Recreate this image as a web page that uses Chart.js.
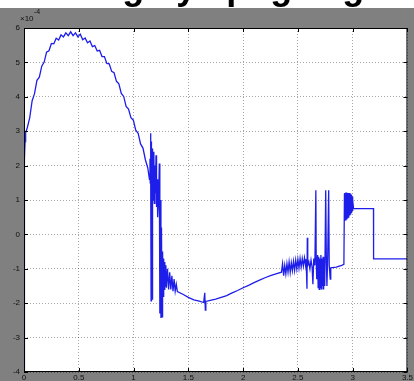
<!DOCTYPE html>
<html><head><meta charset="utf-8">
<script src="https://cdn.jsdelivr.net/npm/chart.js@4/dist/chart.umd.min.js"></script>
<style>
html,body{margin:0;padding:0;background:#ffffff;overflow:hidden;width:414px;height:381px}
#wrap{position:relative;width:414px;height:381px;overflow:hidden}
canvas{display:block;position:absolute;left:0;top:0}
#title{position:absolute;left:27px;top:-34px;height:36px;line-height:36px;text-align:left;
  font:bold 36px "Liberation Sans",Arial,sans-serif;color:#000;white-space:nowrap}
</style>
</head><body><div id="wrap"><canvas id="c" width="414" height="381"></canvas><div id="title"></div></div>
<script>
// ---- data (y values in units of 1e-4) ----
const xTickValues = [0, 0.5, 1, 1.5, 2, 2.5, 3, 3.5];
const yTickValues = [-4, -3, -2, -1, 0, 1, 2, 3, 4, 5, 6];
const titleText = "Tuning by apogee gain";
const exponentText = "×10";
const exponentPower = "-4";

const startX = [0, 0.002, 0.004, 0.006, 0.010, 0.015, 0.020];
const startY = [-4, -1.5, 1.2, 2.2, 2.7, 2.95, 3.0];

const arcX = [0.030,0.052,0.074,0.096,0.118,0.140,0.162,0.184,0.206,0.228,0.250,0.272,0.294,0.316,0.338,0.360,0.382,0.404,0.426,0.448,0.470,0.492,0.514,0.536,0.558,0.580,0.602,0.624,0.646,0.668,0.690,0.712,0.734,0.756,0.778,0.800,0.822,0.844,0.866,0.888,0.910,0.932,0.954,0.976,0.998,1.020,1.042,1.064,1.086,1.108,1.130];
const arcY = [3.10,3.39,3.88,4.09,4.48,4.57,4.89,5.01,5.30,5.34,5.55,5.54,5.70,5.65,5.80,5.74,5.86,5.78,5.89,5.78,5.86,5.74,5.82,5.66,5.71,5.57,5.62,5.46,5.49,5.33,5.35,5.17,5.17,4.97,4.96,4.74,4.70,4.45,4.38,4.10,4.01,3.72,3.64,3.39,3.32,3.03,2.94,2.63,2.51,2.17,1.93];

const dropX = [1.145,1.150,1.152,1.155,1.158,1.160,1.162,1.165,1.170,1.172,1.175,1.180,1.185,1.190,1.195,1.200,1.205,1.210,1.215,1.220,1.230,1.235,1.240,1.245,1.250,1.255,1.260,1.265,1.270,1.275,1.280,1.285,1.290,1.295,1.300,1.310,1.320,1.330,1.340,1.350,1.360,1.370,1.380,1.390,1.400];
const dropY = [1.6,2.2,1.5,2.94,1.8,-1.93,2.7,1.2,2.5,-1.9,2.2,1.0,2.4,0.9,2.0,1.2,2.3,0.8,1.6,0.5,1.2,2.06,-2.3,1.0,-2.43,0.2,-2.4,-0.5,-1.8,-0.7,-1.6,-0.8,-1.5,-0.9,-1.55,-1.0,-1.6,-1.1,-1.6,-1.2,-1.65,-1.3,-1.65,-1.45,-1.66];

const valleyX = [1.45,1.50,1.55,1.60,1.64,1.650,1.655,1.66,1.70,1.75,1.80,1.85,1.90,1.95,2.00,2.05,2.10,2.15,2.20,2.25,2.30,2.35];
const valleyY = [-1.74,-1.83,-1.90,-1.94,-1.98,-1.70,-2.20,-1.95,-1.92,-1.88,-1.83,-1.78,-1.70,-1.63,-1.55,-1.48,-1.40,-1.33,-1.26,-1.20,-1.15,-1.10];

const noiseX = [2.36,2.37,2.38,2.39,2.40,2.41,2.42,2.43,2.44,2.45,2.46,2.47,2.48,2.49,2.50,2.51,2.52,2.53,2.54,2.55,2.56,2.57,2.575];
const noiseY = [-0.85,-1.2,-0.9,-1.15,-0.85,-1.1,-0.8,-1.1,-0.82,-1.05,-0.78,-1.05,-0.75,-1.0,-0.72,-0.98,-0.7,-0.95,-0.7,-0.92,-0.68,-0.9,-0.72];

const spikeX = [2.583,2.586,2.590,2.600,2.610,2.620,2.630,2.637,2.645,2.655,2.664,2.667,2.672,2.680,2.685,2.690,2.695,2.700,2.705,2.710,2.715,2.720,2.725,2.730,2.735,2.740,2.745,2.754,2.760,2.765,2.772,2.781,2.786,2.795,2.800,2.850,2.900,2.920];
const spikeY = [-1.58,-0.1,-0.9,-0.8,-1.0,-0.75,-0.95,-1.45,-0.7,-0.9,1.28,-0.7,-1.3,-0.6,-1.55,-0.65,-1.6,-0.7,-1.55,-0.6,-1.58,-0.7,-1.5,-0.65,-1.6,-0.7,-1.5,1.28,-0.8,-1.5,-0.7,1.28,-0.9,-1.3,-0.97,-0.95,-0.9,-0.87];

const burstX = [2.925,2.926,2.930,2.934,2.938,2.942,2.946,2.950,2.954,2.958,2.962,2.966,2.970,2.974,2.978,2.982,2.986,2.990,2.994,2.998,3.002,3.008];
const burstY = [1.19,0.40,1.20,0.42,1.22,0.45,1.22,0.48,1.20,0.50,1.20,0.52,1.20,0.55,1.18,0.58,1.15,0.62,1.10,0.68,1.00,0.75];

const tailX = [3.05,3.19,3.191,3.5];
const tailY = [0.75,0.75,-0.71,-0.71];

// ---- build points ----
const segX = [startX, arcX, dropX, valleyX, noiseX, spikeX, burstX, tailX];
const segY = [startY, arcY, dropY, valleyY, noiseY, spikeY, burstY, tailY];
const points = [];
segX.forEach((xs, i) => xs.forEach((x, j) => points.push({x: x, y: segY[i][j]})));

document.getElementById('title').textContent = titleText;

const FONT = '"Liberation Sans", Arial, sans-serif';

const framePlugin = {
  id: 'frame',
  beforeDraw(chart) {
    const {ctx, chartArea: a, width, height} = chart;
    ctx.save();
    ctx.fillStyle = '#808080';
    ctx.fillRect(0, 8, width, height - 8);
    ctx.fillStyle = '#ffffff';
    ctx.fillRect(a.left, a.top, a.right - a.left, a.bottom - a.top);
    ctx.restore();
  },
  afterDraw(chart) {
    const {ctx, chartArea: a, scales} = chart;
    ctx.save();
    ctx.strokeStyle = '#000';
    ctx.lineWidth = 1;
    ctx.setLineDash([]);
    ctx.beginPath();
    ctx.moveTo(a.left + 0.5, a.top + 0.5);
    ctx.lineTo(a.right - 0.5, a.top + 0.5);
    ctx.lineTo(a.right - 0.5, a.bottom - 0.5);
    ctx.lineTo(a.left + 0.5, a.bottom - 0.5);
    ctx.closePath();
    ctx.stroke();
    ctx.beginPath();
    xTickValues.forEach(v => {
      const px = Math.round(scales.x.getPixelForValue(v)) + 0.5;
      ctx.moveTo(px, a.bottom); ctx.lineTo(px, a.bottom - 4);
      ctx.moveTo(px, a.top); ctx.lineTo(px, a.top + 4);
    });
    yTickValues.forEach(v => {
      const py = Math.round(scales.y.getPixelForValue(v)) + 0.5;
      ctx.moveTo(a.left, py); ctx.lineTo(a.left + 4, py);
      ctx.moveTo(a.right, py); ctx.lineTo(a.right - 4, py);
    });
    ctx.stroke();
    ctx.fillStyle = '#111';
    ctx.textAlign = 'left';
    ctx.textBaseline = 'alphabetic';
    ctx.font = '8px ' + FONT;
    ctx.fillText(exponentText, 20, 21);
    ctx.font = '7px ' + FONT;
    ctx.fillText(exponentPower, 34, 14);
    ctx.restore();
  }
};

new Chart(document.getElementById('c'), {
  type: 'line',
  data: {
    datasets: [{
      data: points,
      borderColor: 'rgb(30,30,235)',
      borderWidth: 1.3,
      pointRadius: 0,
      tension: 0,
      fill: false
    }]
  },
  options: {
    responsive: false,
    animation: false,
    devicePixelRatio: 1,
    layout: { autoPadding: false, padding: { left: 0, top: 28, right: 1, bottom: 0 } },
    plugins: { legend: { display: false }, tooltip: { enabled: false }, title: { display: false } },
    scales: {
      x: {
        type: 'linear', min: 0, max: 3.5,
        afterBuildTicks: s => { s.ticks = xTickValues.map(v => ({value: v})); },
        afterFit: s => { s.height = 9; },
        border: { display: false, dash: [1, 2] },
        grid: { color: 'rgba(0,0,0,0.35)', drawTicks: false, lineWidth: 1 },
        ticks: { padding: 1, color: '#111', font: { size: 8, family: FONT }, maxRotation: 0, autoSkip: false,
                 callback: v => String(v) }
      },
      y: {
        type: 'linear', min: -4, max: 6,
        afterBuildTicks: s => { s.ticks = yTickValues.map(v => ({value: v})); },
        afterFit: s => { s.width = 24; },
        border: { display: false, dash: [1, 2] },
        grid: { color: 'rgba(0,0,0,0.35)', drawTicks: false, lineWidth: 1 },
        ticks: { padding: 4, color: '#111', font: { size: 8, family: FONT }, autoSkip: false,
                 callback: v => String(v) }
      }
    }
  },
  plugins: [framePlugin]
});
</script>
</body></html>
